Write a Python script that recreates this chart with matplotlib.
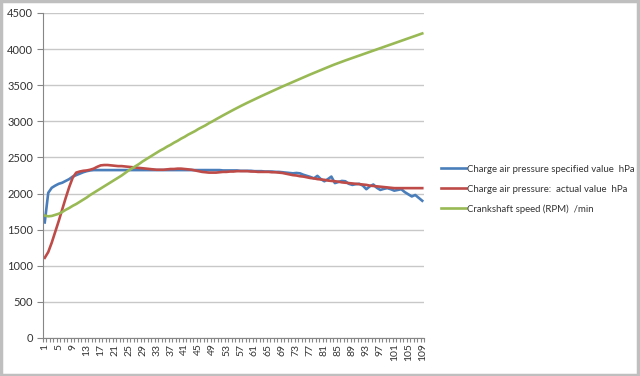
import matplotlib
matplotlib.use("Agg")
import matplotlib.pyplot as plt
from matplotlib.patches import Rectangle

categories = list(range(1, 110))

specified_hpa = [
    1600, 2010, 2080, 2110, 2135, 2150, 2175, 2200, 2235, 2255,
    2275, 2295, 2310, 2320, 2325, 2325, 2325, 2325, 2325, 2325,
    2325, 2325, 2325, 2325, 2325, 2325, 2325, 2325, 2325, 2325,
    2325, 2325, 2325, 2325, 2325, 2325, 2325, 2325, 2325, 2325,
    2325, 2325, 2325, 2325, 2325, 2325, 2325, 2325, 2325, 2325,
    2325, 2320, 2320, 2320, 2320, 2320, 2315, 2315, 2315, 2315,
    2310, 2310, 2310, 2305, 2305, 2305, 2300, 2300, 2295, 2290,
    2285, 2280, 2285, 2280, 2260, 2245, 2230, 2210, 2245, 2200,
    2170, 2200, 2235, 2145, 2160, 2175, 2170, 2135, 2120, 2130,
    2135, 2110, 2060, 2100, 2125, 2080, 2050, 2065, 2075, 2060,
    2040, 2050, 2060, 2020, 1990, 1960, 1980, 1940, 1900,
]

actual_hpa = [
    1110, 1190, 1320, 1470, 1620, 1780, 1940, 2090, 2220, 2290,
    2305, 2315, 2320, 2330, 2345, 2370, 2390, 2395, 2395, 2390,
    2385, 2380, 2380, 2375, 2370, 2365, 2360, 2355, 2350, 2345,
    2340, 2335, 2330, 2330, 2330, 2335, 2340, 2340, 2345, 2345,
    2340, 2335, 2330, 2320, 2310, 2300, 2295, 2290, 2290, 2290,
    2295, 2300, 2300, 2305, 2305, 2310, 2310, 2310, 2310, 2305,
    2305, 2300, 2300, 2300, 2300, 2295, 2295, 2290, 2285, 2275,
    2265, 2255, 2250, 2240, 2235, 2225, 2215, 2210, 2200, 2195,
    2190, 2180, 2175, 2170, 2165, 2155, 2150, 2145, 2140, 2135,
    2130, 2125, 2120, 2110, 2105, 2100, 2095, 2090, 2085, 2080,
    2075, 2075, 2075, 2075, 2075, 2075, 2075, 2075, 2075,
]

crankshaft_rpm = [
    1695, 1685, 1690, 1705, 1720, 1745, 1775, 1800, 1830, 1855,
    1885, 1915, 1945, 1980, 2010, 2040, 2070, 2100, 2130, 2160,
    2190, 2220, 2250, 2285, 2320, 2350, 2380, 2410, 2445, 2475,
    2505, 2535, 2565, 2595, 2620, 2650, 2675, 2705, 2730, 2760,
    2785, 2815, 2840, 2865, 2895, 2920, 2945, 2975, 3000, 3028,
    3055, 3082, 3108, 3134, 3160, 3185, 3210, 3234, 3258, 3281,
    3304, 3327, 3350, 3372, 3394, 3416, 3438, 3460, 3482, 3503,
    3524, 3545, 3566, 3587, 3608, 3629, 3650, 3670, 3690, 3710,
    3730, 3750, 3770, 3789, 3807, 3825, 3843, 3860, 3877, 3894,
    3911, 3928, 3945, 3962, 3979, 3996, 4013, 4030, 4047, 4064,
    4081, 4098, 4115, 4132, 4149, 4166, 4183, 4200, 4217,
]

series_labels = [
    "Charge air pressure specified value  hPa",
    "Charge air pressure:  actual value  hPa",
    "Crankshaft speed (RPM)  /min",
]
series_colors = ["#4A7EBB", "#BE4B48", "#98B954"]
y_ticks = list(range(0, 4501, 500))
x_tick_labels = list(range(1, 110, 4))

plt.rcParams["font.family"] = ["Lato", "DejaVu Sans"]

fig = plt.figure(figsize=(6.4, 3.76), dpi=100)
fig.patch.set_facecolor("white")
ax = fig.add_axes([43 / 640, 1 - 338 / 376, (424 - 43) / 640, (338 - 13) / 376])

for vals, lab, col in zip([specified_hpa, actual_hpa, crankshaft_rpm], series_labels, series_colors):
    ax.plot(categories, vals, color=col, lw=1.9, label=lab, solid_joinstyle="round")

ax.set_xlim(0.5, 109.5)
ax.set_ylim(0, 4500)
ax.set_yticks(y_ticks)
ax.set_yticklabels([str(v) for v in y_ticks], fontsize=8, color="#333333")
ax.set_xticks(x_tick_labels)
ax.set_xticklabels([str(v) for v in x_tick_labels], rotation=90, fontsize=7.5, color="#333333")
ax.set_xticks([c + 0.5 for c in [0] + categories], minor=True)
ax.tick_params(axis="x", which="major", length=0, pad=4)
ax.tick_params(axis="x", which="minor", length=3, color="#868686", width=0.8)
ax.tick_params(axis="y", which="major", length=4, color="#868686", width=0.8, pad=3)
ax.yaxis.grid(True, color="#c8c8c8", lw=1.0)
ax.set_axisbelow(True)
for s in ["top", "right"]:
    ax.spines[s].set_visible(False)
for s in ["left", "bottom"]:
    ax.spines[s].set_color("#868686")
    ax.spines[s].set_linewidth(0.8)

leg = fig.legend(loc="upper left", bbox_to_anchor=(437 / 640, 1 - 161 / 376), frameon=False,
                 fontsize=6.9, handlelength=2.6, handletextpad=0.15, labelspacing=1.12,
                 labelcolor="#333333", borderaxespad=0)

fig.patches.append(Rectangle((0.001, 0.003), 0.996, 0.994, transform=fig.transFigure,
                             fill=False, edgecolor="#bfbfbf", lw=2.5))

fig.savefig("out.png", dpi=100)
